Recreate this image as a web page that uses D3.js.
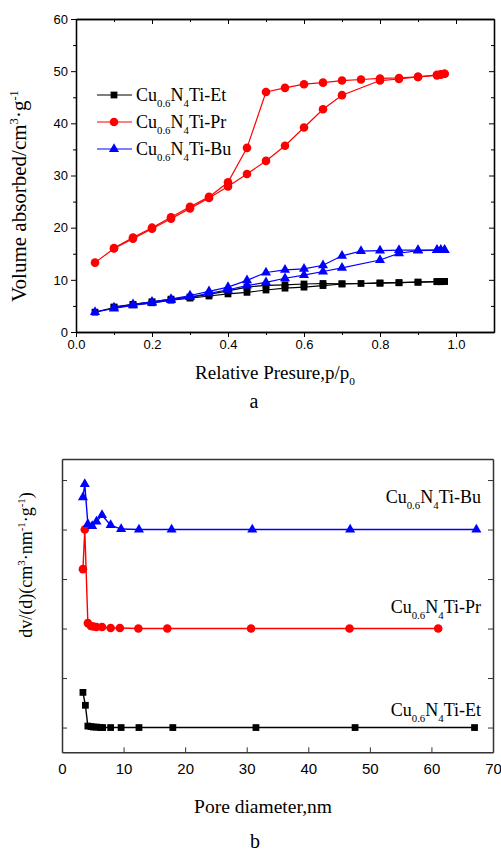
<!DOCTYPE html>
<html>
<head>
<meta charset="utf-8">
<script src="https://cdn.jsdelivr.net/npm/d3@7"></script>
<style>
  body { margin: 0; background: #fff; }
  text { fill: #000; }
</style>
</head>
<body>
<svg id="fig" width="501" height="853"></svg>
<script>
// ---------- samples ----------
const sampleKeys = ["Et", "Pr", "Bu"];
const sampleColors = ["#000000", "#ff0000", "#0000ff"];
const sampleSymbols = [d3.symbolSquare, d3.symbolCircle, d3.symbolTriangle];
const symbolSizes = [46, 58, 44];

// ---------- (a) N2 isotherms: relative pressure p/p0 ----------
const pressureAds = [0.05, 0.1, 0.15, 0.2, 0.25, 0.3, 0.35, 0.4, 0.45, 0.5, 0.55, 0.6, 0.65, 0.7, 0.8, 0.85, 0.9, 0.95, 0.96, 0.97];
const pressureDes = [0.97, 0.96, 0.95, 0.9, 0.85, 0.8, 0.75, 0.7, 0.65, 0.6, 0.55, 0.5, 0.45, 0.4, 0.35, 0.3, 0.25, 0.2, 0.15, 0.1];

// volume adsorbed, cm3/g
const etAds = [3.8, 4.7, 5.2, 5.6, 6.1, 6.5, 6.9, 7.3, 7.6, 8.05, 8.4, 8.6, 8.9, 9.2, 9.35, 9.45, 9.55, 9.65, 9.65, 9.7];
const etDes = [9.7, 9.65, 9.65, 9.55, 9.45, 9.4, 9.3, 9.25, 9.3, 9.2, 9.05, 8.95, 8.6, 7.9, 7.2, 6.7, 6.3, 5.8, 5.3, 4.8];
const prAds = [13.3, 16.0, 17.9, 19.8, 21.7, 23.7, 25.7, 27.9, 30.3, 32.8, 35.7, 39.2, 42.7, 45.4, 48.2, 48.5, 48.9, 49.2, 49.3, 49.5];
const prDes = [49.5, 49.4, 49.3, 48.9, 48.7, 48.6, 48.4, 48.2, 47.8, 47.5, 46.8, 46.0, 35.3, 28.7, 25.9, 24.0, 22.0, 20.0, 18.1, 16.1];
const buAds = [3.8, 4.5, 5.1, 5.6, 6.1, 6.7, 7.4, 8.1, 8.9, 9.5, 10.3, 10.9, 11.6, 12.3, 13.8, 15.1, 15.6, 15.7, 15.7, 15.7];
const buDes = [15.7, 15.7, 15.7, 15.7, 15.7, 15.6, 15.5, 14.6, 12.8, 12.1, 11.9, 11.4, 9.9, 8.6, 7.8, 7.0, 6.3, 5.8, 5.3, 4.7];

const pressureTicks = [0, 0.2, 0.4, 0.6, 0.8, 1.0];
const pressureMinor = [0.1, 0.3, 0.5, 0.7, 0.9];
const volumeTicks = [0, 10, 20, 30, 40, 50, 60];
const volumeMinor = [5, 15, 25, 35, 45, 55];

// ---------- (b) pore size distribution ----------
const etDiam = [3.4, 3.8, 4.2, 4.7, 5.1, 5.6, 6.2, 6.6, 7.9, 9.6, 12.5, 18.0, 31.5, 47.6, 67.0];
const etDist = [0.71, 0.45, 0.03, 0.02, 0.01, 0.01, 0.0, 0.0, 0.0, 0.0, 0.0, 0.0, 0.0, 0.0, 0.0];
const prDiam = [3.4, 3.7, 4.2, 4.7, 5.1, 5.6, 6.5, 7.9, 9.4, 12.4, 17.1, 30.7, 46.7, 61.1];
const prDist = [1.2, 2.0, 0.11, 0.05, 0.04, 0.03, 0.03, 0.01, 0.01, 0.0, 0.0, 0.0, 0.0, 0.0];
const buDiam = [3.4, 3.7, 4.2, 4.9, 5.6, 6.5, 7.9, 9.6, 12.5, 17.8, 30.9, 46.8, 67.3];
const buDist = [0.65, 0.92, 0.11, 0.07, 0.16, 0.29, 0.09, 0.01, 0.0, 0.0, 0.0, 0.0, 0.0];
// curves are stacked vertically
const curveOffsets = [0, 2, 4];

const diamTicks = [0, 10, 20, 30, 40, 50, 60, 70];
const distTicks = [0, 1, 2, 3, 4, 5];

// ---------- helpers ----------
const serif = "'Liberation Serif', 'Times New Roman', serif";
const sans = "'Liberation Sans', Arial, sans-serif";
const svg = d3.select("#fig");

// rich text: parts = [[string, "sub"|"sup"|null], ...]
function richText(sel, parts, size) {
  let shift = 0;
  parts.forEach(([s, kind]) => {
    const target = kind === "sub" ? size * 0.33 : kind === "sup" ? -size * 0.38 : 0;
    sel.append("tspan")
      .attr("dy", target - shift)
      .attr("font-size", kind ? size * 0.6 : size)
      .text(s);
    shift = target;
  });
}
function sampleLabel(key) {
  return [["Cu", null], ["0.6", "sub"], ["N", null], ["4", "sub"], ["Ti-" + key, null]];
}
function drawMarkers(g, pts, i, x, y) {
  g.selectAll(null).data(pts).join("path")
    .attr("d", d3.symbol(sampleSymbols[i], symbolSizes[i]))
    .attr("transform", d => `translate(${x(d[0])},${y(d[1])})`)
    .attr("fill", sampleColors[i]);
}
function styleAxis(g, color, width) {
  g.select(".domain").attr("stroke", color).attr("stroke-width", width);
  g.selectAll(".tick line").attr("stroke", color).attr("stroke-width", 1);
}

// ================= panel (a) =================
const xA = d3.scaleLinear([0, 1.1], [76, 494]);
const yA = d3.scaleLinear([0, 60], [332, 19]);
const gA = svg.append("g");

// frame axes
const axA = [
  [d3.axisBottom(xA).tickValues(pressureTicks).tickSize(5).tickFormat(d3.format(".1f")), `translate(0,${yA(0)})`],
  [d3.axisBottom(xA).tickValues(pressureMinor).tickSize(3).tickFormat(""), `translate(0,${yA(0)})`],
  [d3.axisTop(xA).tickValues(pressureTicks).tickSize(-5).tickFormat(""), `translate(0,${yA(60)})`],
  [d3.axisTop(xA).tickValues(pressureMinor).tickSize(-3).tickFormat(""), `translate(0,${yA(60)})`],
  [d3.axisLeft(yA).tickValues(volumeTicks).tickSize(5), `translate(${xA(0)},0)`],
  [d3.axisLeft(yA).tickValues(volumeMinor).tickSize(3).tickFormat(""), `translate(${xA(0)},0)`],
  [d3.axisRight(yA).tickValues(volumeTicks).tickSize(-5).tickFormat(""), `translate(${xA(1.1)},0)`],
  [d3.axisRight(yA).tickValues(volumeMinor).tickSize(-3).tickFormat(""), `translate(${xA(1.1)},0)`]
];
axA.forEach(([ax, tr]) => {
  const g = gA.append("g").attr("transform", tr).call(ax.tickSizeOuter(0));
  styleAxis(g, "#000", 1.3);
  g.selectAll("text").attr("font-family", sans).attr("font-size", 13).attr("fill", "#000");
});

// isotherm branches
const isotherms = [[etAds, etDes], [prAds, prDes], [buAds, buDes]];
const lineA = d3.line().x(d => xA(d[0])).y(d => yA(d[1]));
isotherms.forEach(([ads, des], i) => {
  const a = pressureAds.map((p, k) => [p, ads[k]]);
  const d = pressureDes.map((p, k) => [p, des[k]]);
  [a, d].forEach(pts => {
    gA.append("path").attr("d", lineA(pts)).attr("fill", "none")
      .attr("stroke", sampleColors[i]).attr("stroke-width", 1.2);
  });
  drawMarkers(gA, a.concat(d), i, xA, yA);
});

// legend
sampleKeys.forEach((key, i) => {
  const y = 95 + i * 27;
  gA.append("line").attr("x1", 97).attr("x2", 132).attr("y1", y).attr("y2", y)
    .attr("stroke", sampleColors[i]).attr("stroke-width", 1.2);
  gA.append("path").attr("d", d3.symbol(sampleSymbols[i], symbolSizes[i])())
    .attr("transform", `translate(114,${y})`).attr("fill", sampleColors[i]);
  const t = gA.append("text").attr("x", 136).attr("y", y + 6)
    .attr("font-family", serif);
  richText(t, sampleLabel(key), 18);
});

// axis titles
const xTitleA = gA.append("text").attr("x", 275).attr("y", 379)
  .attr("text-anchor", "middle").attr("font-family", serif);
richText(xTitleA, [["Relative Presure,p/p", null], ["0", "sub"]], 19);
const yTitleA = gA.append("text").attr("transform", "translate(26,196) rotate(-90)")
  .attr("text-anchor", "middle").attr("font-family", serif);
richText(yTitleA, [["Volume absorbed/cm", null], ["3", "sup"], ["·g", null], ["-1", "sup"]], 21);
gA.append("text").attr("x", 254).attr("y", 408).attr("text-anchor", "middle")
  .attr("font-family", serif).attr("font-size", 20).text("a");

// ================= panel (b) =================
const xB = d3.scaleLinear([0, 70], [62, 493]);
const yB = d3.scaleLinear([-0.5, 5.425], [752.3, 459]);
const gB = svg.append("g");
const frameColor = "#333";

const axB = [
  [d3.axisBottom(xB).tickValues(diamTicks).tickSize(-5), `translate(0,${yB.range()[0]})`],
  [d3.axisLeft(yB).tickValues(distTicks).tickSize(-5).tickFormat(""), `translate(${xB(0)},0)`],
  [d3.axisRight(yB).tickValues(distTicks).tickSize(-5).tickFormat(""), `translate(${xB(70)},0)`],
  [d3.axisTop(xB).tickValues([]).tickSize(0), `translate(0,${yB.range()[1]})`]
];
axB.forEach(([ax, tr]) => {
  const g = gB.append("g").attr("transform", tr).call(ax.tickSizeOuter(0));
  styleAxis(g, frameColor, 1.5);
  g.selectAll("text").attr("font-family", sans).attr("font-size", 15)
    .attr("fill", "#000").attr("dy", "1.25em");
});

const psd = [[etDiam, etDist], [prDiam, prDist], [buDiam, buDist]];
const lineB = d3.line().x(d => xB(d[0])).y(d => yB(d[1]));
psd.forEach(([dia, dist], i) => {
  const pts = dia.map((d, k) => [d, dist[k] + curveOffsets[i]]);
  gB.append("path").attr("d", lineB(pts)).attr("fill", "none")
    .attr("stroke", sampleColors[i]).attr("stroke-width", 1.4);
  drawMarkers(gB, pts, i, xB, yB);
});

// curve labels
const labelLift = [0.24, 0.32, 0.54];
sampleKeys.forEach((key, i) => {
  const t = gB.append("text").attr("x", 481).attr("y", yB(curveOffsets[i] + labelLift[i]))
    .attr("text-anchor", "end").attr("font-family", serif);
  richText(t, sampleLabel(key), 18);
});

const xTitleB = gB.append("text").attr("x", 263).attr("y", 813)
  .attr("text-anchor", "middle").attr("font-family", serif).attr("font-size", 19.5)
  .text("Pore diameter,nm");
const yTitleB = gB.append("text").attr("transform", "translate(32,565) rotate(-90)")
  .attr("text-anchor", "middle").attr("font-family", serif);
richText(yTitleB, [["dv/(d)(cm", null], ["3", "sup"], ["·nm", null], ["-1", "sup"], ["·g", null], ["-1", "sup"], [")", null]], 18);
gB.append("text").attr("x", 255).attr("y", 848).attr("text-anchor", "middle")
  .attr("font-family", serif).attr("font-size", 20).text("b");
</script>
</body>
</html>
